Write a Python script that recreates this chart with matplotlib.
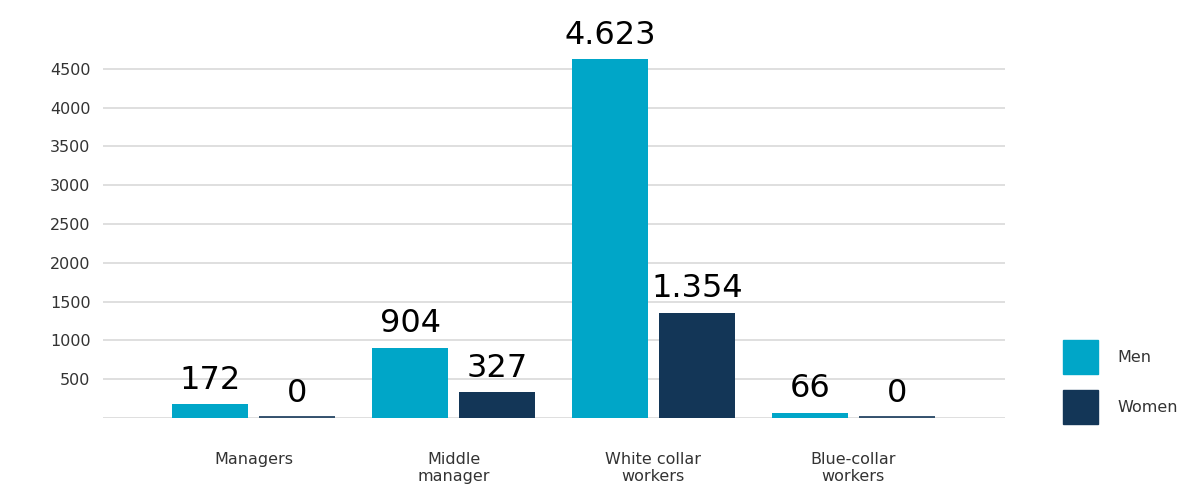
import matplotlib
matplotlib.use("Agg")
import matplotlib.pyplot as plt
from matplotlib.patches import Patch
import numpy as np

categories = ["Managers", "Middle\nmanager", "White collar\nworkers", "Blue-collar\nworkers"]
men = [172, 904, 4623, 66]
women = [0, 327, 1354, 0]
men_labels = ["172", "904", "4.623", "66"]
women_labels = ["0", "327", "1.354", "0"]
yticks = [500, 1000, 1500, 2000, 2500, 3000, 3500, 4000, 4500]
series_names = ["Men", "Women"]

c_men = "#00A6C8"
c_women = "#133657"
txt = "#333333"

fig = plt.figure(figsize=(11.98, 4.86), dpi=100)
ax = fig.add_axes([103/1198, 68.25/486, 902/1198, 364.25/486])

x = np.arange(len(categories))
w = 0.38
off = 0.2175
ax.bar(x - off, men, width=w, color=c_men, zorder=3)
ax.bar(x + off, women, width=w, color=c_women, zorder=3)
# zero-height bars visible as thin lines
for xi, v in zip(x, women):
    if v == 0:
        ax.plot([xi + off - w/2, xi + off + w/2], [8, 8], color=c_women, lw=1.2, zorder=3, solid_capstyle='butt')
for xi, v in zip(x, men):
    if v == 0:
        ax.plot([xi - off - w/2, xi - off + w/2], [8, 8], color=c_men, lw=1.2, zorder=3, solid_capstyle='butt')

for xi, v, lab in zip(x, men, men_labels):
    ax.annotate(lab, (xi - off, v), xytext=(0, 6), textcoords="offset points",
                ha="center", va="bottom", fontsize=23, color="black", clip_on=False)
for xi, v, lab in zip(x, women, women_labels):
    ax.annotate(lab, (xi + off, v), xytext=(0, 6), textcoords="offset points",
                ha="center", va="bottom", fontsize=23, color="black", clip_on=False)

ax.set_xlim(-0.755, 3.76)
ax.set_ylim(0, 4700)
ax.set_yticks(yticks)
ax.set_yticklabels([str(t) for t in yticks], fontsize=11.5, color=txt)
for t in [0] + yticks:
    ax.axhline(t, color="#dcdcdc", lw=1.3, zorder=1)
ax.tick_params(axis="y", length=0, pad=9)
ax.set_xticks(x)
ax.set_xticklabels(categories, fontsize=11.5, color=txt, linespacing=1.15)
ax.tick_params(axis="x", length=0, pad=25)
for s in ax.spines.values():
    s.set_visible(False)

handles = [Patch(color=c_men), Patch(color=c_women)]
fig.legend(handles, series_names, loc="upper left", bbox_to_anchor=(1055/1198, 1 - 332/486),
           frameon=False, fontsize=11.5, handlelength=2.2, handleheight=2.9,
           labelspacing=1.0, handletextpad=1.2, borderpad=0, labelcolor=txt)

fig.savefig("out.png", dpi=100)
